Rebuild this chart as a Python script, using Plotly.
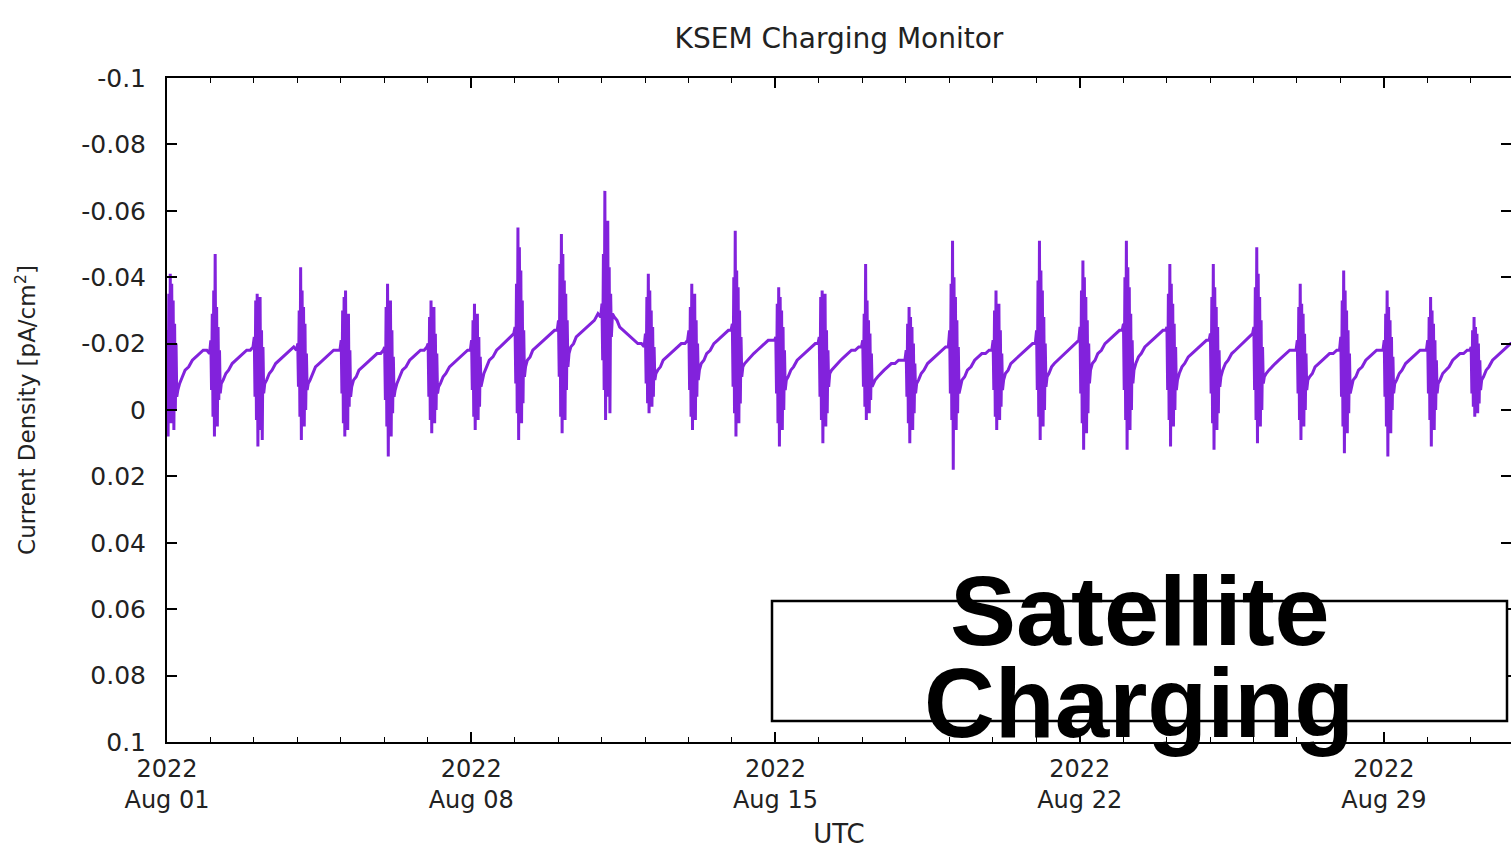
import pandas as pd
import plotly.graph_objects as go

# ---------------- data ----------------
# sampling schedule inside each day (hours after 00:00 UTC): dense during the daily burst, sparse after
sample_hours = [0.2, 0.6, 1.0, 1.4, 1.8, 2.2, 2.6, 3.0, 3.4, 3.8, 4.2, 4.6, 5.0, 5.4,
                6.0, 7.0, 8.5, 10.0, 12.0, 14.0, 16.0, 18.0, 20.0, 22.0, 23.5]

aug01 = [-0.024, 0.008, -0.035, -0.002, -0.041, 0.004, -0.038, -0.003, -0.033, 0.006, -0.026, 0.000, -0.020, -0.004,
         -0.006, -0.008, -0.010, -0.012, -0.013, -0.015, -0.016, -0.017, -0.018, -0.018, -0.017]
aug02 = [-0.021, -0.006, -0.029, 0.002, -0.036, 0.008, -0.047, -0.001, -0.031, 0.005, -0.025, -0.003, -0.018, -0.005,
         -0.008, -0.009, -0.011, -0.012, -0.014, -0.015, -0.016, -0.017, -0.018, -0.018, -0.019]
aug03 = [-0.022, -0.004, -0.033, 0.003, -0.035, 0.011, -0.029, -0.002, -0.034, 0.006, -0.024, 0.009, -0.019, -0.005,
         -0.008, -0.009, -0.011, -0.012, -0.014, -0.015, -0.016, -0.017, -0.018, -0.019, -0.018]
aug04 = [-0.020, -0.007, -0.030, 0.002, -0.043, 0.009, -0.036, -0.001, -0.031, 0.005, -0.026, 0.000, -0.017, -0.006,
         -0.008, -0.009, -0.011, -0.013, -0.014, -0.015, -0.016, -0.017, -0.018, -0.018, -0.018]
aug05 = [-0.021, -0.005, -0.030, 0.004, -0.034, 0.008, -0.036, -0.002, -0.028, 0.006, -0.029, -0.001, -0.018, -0.004,
         -0.007, -0.009, -0.010, -0.012, -0.013, -0.014, -0.015, -0.016, -0.017, -0.017, -0.018]
aug06 = [-0.019, -0.003, -0.031, 0.005, -0.038, 0.014, -0.030, 0.002, -0.033, 0.008, -0.024, 0.001, -0.016, -0.004,
         -0.006, -0.008, -0.010, -0.012, -0.013, -0.015, -0.016, -0.017, -0.018, -0.018, -0.019]
aug07 = [-0.020, -0.004, -0.028, 0.003, -0.033, 0.007, -0.029, -0.001, -0.031, 0.004, -0.023, 0.000, -0.017, -0.005,
         -0.007, -0.008, -0.010, -0.011, -0.013, -0.014, -0.015, -0.016, -0.017, -0.018, -0.018]
aug08 = [-0.021, -0.006, -0.027, 0.002, -0.032, 0.006, -0.026, -0.002, -0.029, 0.003, -0.022, -0.001, -0.016, -0.007,
         -0.009, -0.011, -0.013, -0.015, -0.016, -0.018, -0.019, -0.020, -0.021, -0.022, -0.023]
aug09 = [-0.025, -0.008, -0.038, 0.001, -0.055, 0.009, -0.049, -0.003, -0.042, 0.004, -0.033, -0.002, -0.024, -0.010,
         -0.013, -0.015, -0.016, -0.018, -0.019, -0.020, -0.021, -0.022, -0.023, -0.024, -0.024]
aug10 = [-0.027, -0.010, -0.044, 0.002, -0.053, 0.007, -0.047, -0.004, -0.039, 0.003, -0.035, -0.006, -0.027, -0.013,
         -0.017, -0.019, -0.020, -0.022, -0.023, -0.024, -0.025, -0.026, -0.027, -0.029, -0.028]
aug11 = [-0.032, -0.015, -0.047, -0.006, -0.066, 0.003, -0.051, -0.009, -0.057, -0.004, -0.043, 0.001, -0.035, -0.022,
         -0.029, -0.028, -0.027, -0.025, -0.024, -0.023, -0.022, -0.021, -0.020, -0.020, -0.019]
aug12 = [-0.023, -0.008, -0.034, -0.002, -0.041, 0.001, -0.036, -0.005, -0.030, -0.001, -0.025, -0.004, -0.019, -0.009,
         -0.011, -0.012, -0.013, -0.015, -0.016, -0.017, -0.018, -0.019, -0.020, -0.020, -0.021]
aug13 = [-0.024, -0.006, -0.031, 0.002, -0.038, 0.006, -0.033, -0.002, -0.035, 0.003, -0.027, -0.004, -0.020, -0.009,
         -0.012, -0.014, -0.015, -0.017, -0.018, -0.020, -0.021, -0.022, -0.023, -0.024, -0.024]
aug14 = [-0.026, -0.007, -0.040, 0.001, -0.054, 0.008, -0.042, -0.003, -0.037, 0.004, -0.030, -0.002, -0.022, -0.010,
         -0.013, -0.014, -0.015, -0.016, -0.017, -0.018, -0.019, -0.020, -0.021, -0.021, -0.021]
aug15 = [-0.022, -0.005, -0.032, 0.004, -0.037, 0.011, -0.034, -0.001, -0.030, 0.006, -0.025, 0.000, -0.018, -0.006,
         -0.009, -0.010, -0.012, -0.013, -0.015, -0.016, -0.017, -0.018, -0.019, -0.020, -0.020]
aug16 = [-0.022, -0.004, -0.034, 0.003, -0.036, 0.010, -0.031, -0.002, -0.035, 0.005, -0.024, 0.001, -0.018, -0.007,
         -0.011, -0.012, -0.013, -0.014, -0.015, -0.016, -0.017, -0.018, -0.018, -0.019, -0.019]
aug17 = [-0.021, -0.007, -0.029, -0.001, -0.044, 0.003, -0.033, -0.004, -0.027, 0.001, -0.023, -0.003, -0.017, -0.007,
         -0.008, -0.009, -0.010, -0.011, -0.012, -0.013, -0.014, -0.014, -0.015, -0.015, -0.015]
aug18 = [-0.018, -0.004, -0.026, 0.004, -0.031, 0.010, -0.028, 0.000, -0.025, 0.006, -0.020, 0.001, -0.014, -0.005,
         -0.008, -0.009, -0.011, -0.012, -0.014, -0.015, -0.016, -0.017, -0.018, -0.019, -0.019]
aug19 = [-0.024, -0.005, -0.038, 0.003, -0.051, 0.018, -0.040, -0.002, -0.034, 0.006, -0.027, 0.001, -0.019, -0.005,
         -0.007, -0.009, -0.010, -0.012, -0.013, -0.015, -0.016, -0.017, -0.017, -0.018, -0.018]
aug20 = [-0.021, -0.006, -0.030, 0.002, -0.036, 0.006, -0.029, -0.002, -0.032, 0.003, -0.024, -0.001, -0.017, -0.006,
         -0.009, -0.011, -0.012, -0.014, -0.015, -0.016, -0.017, -0.018, -0.019, -0.020, -0.020]
aug21 = [-0.024, -0.006, -0.039, 0.002, -0.051, 0.009, -0.042, -0.001, -0.036, 0.005, -0.028, 0.000, -0.020, -0.007,
         -0.010, -0.011, -0.013, -0.014, -0.015, -0.016, -0.017, -0.018, -0.019, -0.020, -0.021]
aug22 = [-0.025, -0.005, -0.036, 0.004, -0.045, 0.012, -0.040, -0.001, -0.034, 0.007, -0.027, 0.001, -0.020, -0.008,
         -0.012, -0.014, -0.015, -0.017, -0.018, -0.020, -0.021, -0.022, -0.023, -0.024, -0.024]
aug23 = [-0.026, -0.006, -0.040, 0.003, -0.051, 0.012, -0.043, -0.002, -0.037, 0.006, -0.029, 0.000, -0.021, -0.008,
         -0.012, -0.014, -0.016, -0.017, -0.019, -0.020, -0.021, -0.022, -0.023, -0.024, -0.024]
aug24 = [-0.025, -0.006, -0.035, 0.003, -0.044, 0.011, -0.038, -0.001, -0.032, 0.005, -0.026, 0.000, -0.019, -0.006,
         -0.009, -0.011, -0.013, -0.014, -0.016, -0.017, -0.018, -0.019, -0.020, -0.021, -0.021]
aug25 = [-0.023, -0.005, -0.034, 0.004, -0.044, 0.012, -0.037, -0.001, -0.031, 0.006, -0.025, 0.001, -0.018, -0.007,
         -0.010, -0.012, -0.014, -0.015, -0.017, -0.018, -0.019, -0.020, -0.021, -0.022, -0.023]
aug26 = [-0.025, -0.006, -0.037, 0.003, -0.049, 0.010, -0.041, -0.002, -0.034, 0.005, -0.027, 0.000, -0.019, -0.008,
         -0.010, -0.011, -0.012, -0.013, -0.014, -0.015, -0.016, -0.017, -0.018, -0.018, -0.018]
aug27 = [-0.021, -0.005, -0.031, 0.003, -0.038, 0.009, -0.032, -0.001, -0.029, 0.005, -0.023, 0.000, -0.017, -0.006,
         -0.009, -0.010, -0.011, -0.013, -0.014, -0.015, -0.016, -0.017, -0.017, -0.018, -0.018]
aug28 = [-0.022, -0.004, -0.033, 0.005, -0.042, 0.013, -0.036, 0.000, -0.030, 0.007, -0.024, 0.001, -0.017, -0.005,
         -0.007, -0.009, -0.010, -0.012, -0.013, -0.015, -0.016, -0.017, -0.018, -0.018, -0.018]
aug29 = [-0.021, -0.004, -0.029, 0.005, -0.036, 0.014, -0.031, 0.001, -0.027, 0.007, -0.022, 0.000, -0.016, -0.005,
         -0.008, -0.009, -0.011, -0.012, -0.014, -0.015, -0.016, -0.017, -0.018, -0.018, -0.018]
aug30 = [-0.021, -0.005, -0.028, 0.003, -0.034, 0.011, -0.030, 0.000, -0.026, 0.006, -0.021, 0.000, -0.015, -0.005,
         -0.008, -0.009, -0.011, -0.012, -0.013, -0.015, -0.016, -0.017, -0.017, -0.018, -0.018]
aug31 = [-0.019, -0.005, -0.024, -0.001, -0.028, 0.002, -0.025, -0.002, -0.023, 0.001, -0.020, -0.002, -0.015, -0.006,
         -0.009, -0.010, -0.012, -0.013, -0.015, -0.016, -0.017, -0.018, -0.019, -0.020, -0.020]

daily_values = [aug01, aug02, aug03, aug04, aug05, aug06, aug07, aug08, aug09, aug10,
                aug11, aug12, aug13, aug14, aug15, aug16, aug17, aug18, aug19, aug20,
                aug21, aug22, aug23, aug24, aug25, aug26, aug27, aug28, aug29, aug30, aug31]
first_day = "2022-08-01"

x_tick_vals = ["2022-08-01", "2022-08-08", "2022-08-15", "2022-08-22", "2022-08-29"]
x_tick_text = ["2022<br>Aug 01", "2022<br>Aug 08", "2022<br>Aug 15", "2022<br>Aug 22", "2022<br>Aug 29"]
y_tick_vals = [-0.1, -0.08, -0.06, -0.04, -0.02, 0.0, 0.02, 0.04, 0.06, 0.08, 0.1]
y_tick_text = ["-0.1", "-0.08", "-0.06", "-0.04", "-0.02", "0", "0.02", "0.04", "0.06", "0.08", "0.1"]

# ---------------- build series ----------------
start = pd.Timestamp(first_day)
times, values = [], []
for d, day_vals in enumerate(daily_values):
    for h, v in zip(sample_hours, day_vals):
        times.append(start + pd.Timedelta(days=d, hours=h))
        values.append(v)

LINE = "#8222dc"
TXT = "#222222"
FONT = "DejaVu Sans"

fig = go.Figure(go.Scatter(x=times, y=values, mode="lines",
                           line=dict(color=LINE, width=3), showlegend=False))

fig.update_layout(
    width=1511, height=850,
    margin=dict(l=167, r=0, t=78, b=108, pad=0),
    paper_bgcolor="white", plot_bgcolor="white",
    font=dict(family=FONT, color=TXT),
    title=dict(text="KSEM Charging Monitor", x=0.5, xref="paper", xanchor="center",
               y=1 - 38 / 850, yref="container", yanchor="middle",
               font=dict(family=FONT, size=28, color=TXT)),
)

fig.update_xaxes(
    type="date",
    range=[pd.Timestamp("2022-08-01"), pd.Timestamp("2022-08-31 22:12")],
    tickmode="array", tickvals=x_tick_vals, ticktext=x_tick_text,
    ticks="inside", ticklen=10, tickwidth=1.5, tickcolor="black",
    showline=True, linecolor="black", linewidth=2, mirror="ticks",
    showgrid=False, zeroline=False,
    tickfont=dict(family=FONT, size=24, color=TXT),
    ticklabelstandoff=4,
    minor=dict(ticks="inside", dtick=86400000, ticklen=5, tickwidth=1.2,
               tickcolor="black", showgrid=False),
    title=dict(text="UTC", font=dict(family=FONT, size=26, color=TXT), standoff=12),
    automargin=False,
)

fig.update_yaxes(
    range=[0.1, -0.1],
    tickmode="array", tickvals=y_tick_vals, ticktext=y_tick_text,
    ticks="inside", ticklen=10, tickwidth=1.5, tickcolor="black",
    showline=True, linecolor="black", linewidth=2, mirror="ticks",
    showgrid=False, zeroline=False,
    tickfont=dict(family=FONT, size=25, color=TXT),
    ticklabelstandoff=14,
    title=dict(text="Current Density [pA/cm<sup>2</sup>]",
               font=dict(family=FONT, size=23, color=TXT), standoff=39),
    automargin=False,
)

# overlay caption box
fig.add_shape(type="rect", xref="paper", yref="paper",
              x0=(772 - 167) / 1344, x1=(1507 - 167) / 1344,
              y0=(742 - 721) / 664, y1=(742 - 601) / 664,
              line=dict(color="black", width=2.5), fillcolor="white", layer="above")
fig.add_annotation(text="Satellite", xref="paper", yref="paper",
                   x=(1140 - 167) / 1344, y=(742 - 610) / 664,
                   xanchor="center", yanchor="middle", showarrow=False,
                   font=dict(family="Liberation Sans", size=99, color="black", weight="bold"))
fig.add_annotation(text="Charging", xref="paper", yref="paper",
                   x=(1139 - 167) / 1344, y=(742 - 703) / 664,
                   xanchor="center", yanchor="middle", showarrow=False,
                   font=dict(family="Liberation Sans", size=98, color="black", weight="bold"))

fig.write_html("out.html")
